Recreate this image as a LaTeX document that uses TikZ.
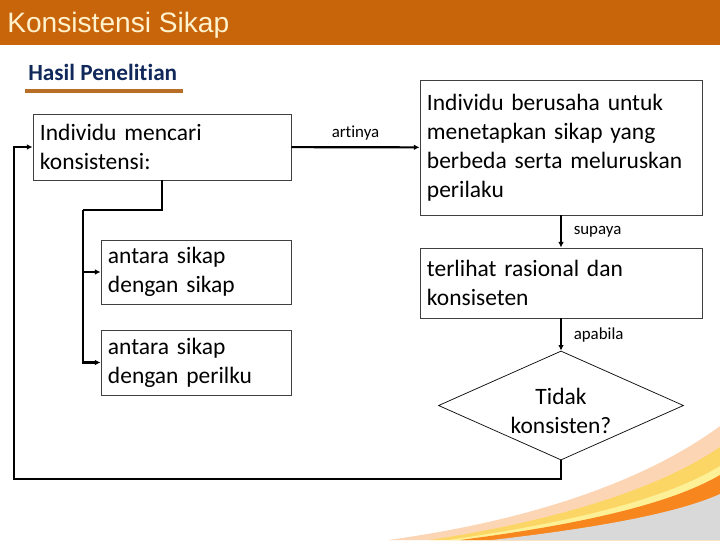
\documentclass[tikz,border=0pt]{standalone}
\usepackage{fontspec}
\setmainfont{Carlito}[Ligatures=NoCommon]
\newfontfamily\titlefont{Liberation Sans}
\usetikzlibrary{arrows.meta,shapes.geometric}
\definecolor{barorange}{RGB}{200,100,10}
\definecolor{titlecream}{RGB}{255,242,204}
\definecolor{headnavy}{RGB}{16,40,90}
\definecolor{rulebrown}{RGB}{185,110,40}
\definecolor{swpeach}{RGB}{252,213,180}
\definecolor{swyellow}{RGB}{252,214,100}
\definecolor{swpale}{RGB}{254,240,150}
\definecolor{sworange}{RGB}{247,134,30}
\definecolor{swgray}{RGB}{217,217,217}
\tikzset{
  box/.style={draw=black!75, line width=0.6pt, align=left, inner xsep=5pt,
    font=\fontsize{16.7}{20.6}\selectfont},
  decision/.style={draw, diamond, line width=0.5pt, inner sep=0pt, aspect=2.25,
    minimum width=6.125cm, minimum height=2.725cm},
  flow/.style={line width=1.5pt, -{Latex[length=4pt,width=4pt]}},
  tag/.style={font=\fontsize{12}{14}\selectfont}
}

\begin{document}
\begin{tikzpicture}[x=0.025cm, y=-0.025cm]
			%%%%% START %%%%%
			\useasboundingbox (0, 0) rectangle (720, 540);
			
			% bottom swoosh
			\fill[swpeach] (388, 540) .. controls (520, 522) and (640, 485) .. (720, 426) -- (720, 540) -- cycle;
			\fill[swyellow] (430, 540) .. controls (560, 520) and (660, 488) .. (720, 447) -- (720, 540) -- cycle;
			\fill[swpale] (448, 540) .. controls (575, 522) and (668, 498) .. (720, 466) -- (720, 540) -- cycle;
			\fill[sworange] (460, 540) .. controls (585, 524) and (672, 503) .. (720, 475) -- (720, 540) -- cycle;
			\fill[swgray] (492, 540) .. controls (605, 527) and (680, 512) .. (720, 494) -- (720, 540) -- cycle;
			
			% title bar
			\fill[barorange] (0, 0) rectangle (720, 45);
			\node[anchor=base west, inner sep=0pt, text=titlecream, font=\titlefont\fontsize{20}{24}\selectfont] (title) at (7, 32) {Konsistensi Sikap};
			
			\node[anchor=base west, inner sep=0pt, text=headnavy, font=\bfseries\fontsize{16.5}{19}\selectfont] (head) at (28, 80) {Hasil Penelitian};
			\fill[rulebrown] (25, 89) rectangle (183, 93);
			
			% boxes
			\node[box, text width=6.1cm, minimum height=1.65cm] (seek) at (162, 147) {Individu mencari\\konsistensi:};
			\node[box, text width=4.4cm, minimum height=1.6cm] (attatt) at (196, 272) {antara sikap\\dengan sikap};
			\node[box, text width=4.4cm, minimum height=1.625cm] (attbeh) at (196, 362.5) {antara sikap\\dengan perilku};
			\node[box, text width=6.7cm, minimum height=3.375cm] (fix) at (561, 147.5) {Individu berusaha untuk\\menetapkan sikap yang\\berbeda serta meluruskan\\perilaku};
			\node[box, text width=6.7cm, minimum height=1.75cm] (rational) at (561, 283) {terlihat rasional dan\\konsiseten};
			\node[decision] (check) at (561, 405.5) {};
			\node[align=center, font=\fontsize{16.7}{20.6}\selectfont] (checktext) at (561, 411) {Tidak\\konsisten?};
			
			% connectors
			\coordinate (split) at (83, 210);
			\coordinate (back) at (14, 479);
			
			\draw[flow] (seek) -- node[tag, above=1pt] {artinya} (fix);
			\draw[flow] (fix) -- node[tag, right=5pt] {supaya} (rational);
			\draw[flow] (rational) -- node[tag, right=5pt] {apabila} (check);
			
			\draw[line width=1.5pt] (seek.south) |- (split);
			\draw[flow] (split) |- (attatt.west);
			\draw[flow] (split) |- (attbeh.west);
			
			\draw[flow] (check.south) |- (back) |- (seek.west);
			
			%%%%% END %%%%%
\end{tikzpicture}
\end{document}
